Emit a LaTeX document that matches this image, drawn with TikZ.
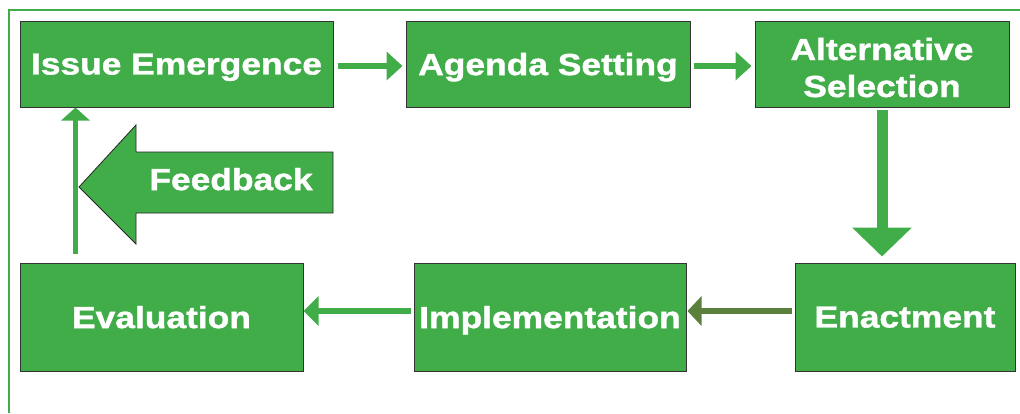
\documentclass[tikz,border=0pt]{standalone}
\usepackage{fontspec}
\newfontfamily\stagefont{Liberation Sans}[FakeStretch=1.16,FakeBold=1.3]
\usetikzlibrary{arrows.meta}
\definecolor{stagegreen}{RGB}{65,173,73}
\definecolor{olivegreen}{RGB}{90,128,60}

\begin{document}
\begin{tikzpicture}[x=1pt,y=-1pt,
   stage/.style={draw=black!80,line width=1pt,fill=stagegreen,text=white,inner sep=0pt,
      font=\stagefont\bfseries\fontsize{30.5}{37}\selectfont,align=center,text depth=0pt},
   flow/.style={draw=stagegreen,line width=5.5pt,-{Triangle[length=16pt,width=28pt]}}]
   \useasboundingbox (0,0) rectangle (1020,413);

   % frame
   \draw[stagegreen,line width=2pt] (9,413) -- (9,10) -- (1020,10);

   % top row
   \node[stage,minimum width=313pt,minimum height=86pt] (issue) at (176.5,64) {Issue Emergence};
   \node[stage,minimum width=284pt,minimum height=86pt] (agenda) at (548,64) {Agenda Setting};
   \node[stage,minimum width=254pt,minimum height=86pt] (altsel) at (882,64) {\rule{0pt}{29pt}Alternative\\Selection};

   % bottom row
   \node[stage,minimum width=220pt,minimum height=108pt] (enact) at (905,317) {Enactment};
   \node[stage,minimum width=272pt,minimum height=108pt] (impl) at (550,317) {Implementation};
   \node[stage,minimum width=283pt,minimum height=108pt] (eval) at (161.5,317) {Evaluation};

   \draw[flow,shorten <=4pt,shorten >=3pt] ([yshift=-2pt]issue.east) -- ([yshift=-2pt]agenda.west);
   \draw[flow,shorten <=3pt,shorten >=3pt] ([yshift=-2pt]agenda.east) -- ([yshift=-2pt]altsel.west);
   \draw[stagegreen,line width=11pt,-{Triangle[length=29pt,width=58pt]},shorten <=2pt,shorten >=6pt]
      (altsel.south) -- (altsel.south |- enact.north);
   \draw[flow,draw=olivegreen,-{Triangle[length=14pt,width=29pt]},shorten <=3pt,shorten >=1pt]
      ([yshift=6pt]enact.west) -- ([yshift=6pt]impl.east);
   \draw[flow,-{Triangle[length=15pt,width=29pt]},shorten <=3pt]
      ([yshift=6pt]impl.west) -- ([yshift=6pt]eval.east);
   \draw[flow,line width=5pt,-{Triangle[length=13pt,width=28pt]},shorten <=9pt]
      ([xshift=56pt]eval.north west) -- ([xshift=56pt]issue.south west);

   % feedback arrow
   \draw[fill=stagegreen,draw=black!85,line width=0.8pt]
      (79,187) -- (136,125) -- (136,152) -- (333,152) -- (333,213) -- (136,213) -- (136,244) -- cycle;
   \node[text=white,font=\stagefont\bfseries\fontsize{30.5}{37}\selectfont,text depth=0pt] (feedback) at (231,179) {Feedback};

\end{tikzpicture}
\end{document}
